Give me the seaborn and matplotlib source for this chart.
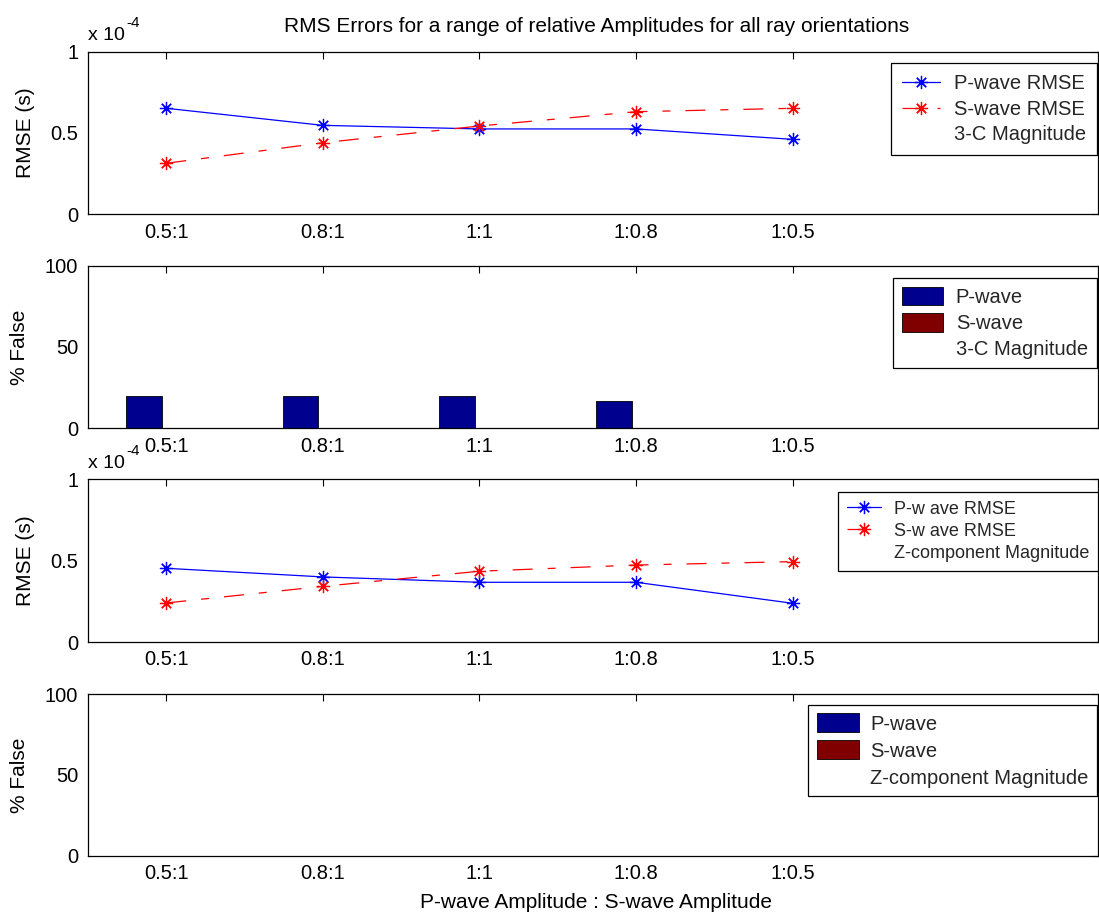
import numpy as np
import pandas as pd
import seaborn as sns
import matplotlib
matplotlib.use("Agg")
import matplotlib.pyplot as plt
from matplotlib.lines import Line2D
from matplotlib.patches import Patch

# ---------------- data ----------------
ratios = ["0.5:1", "0.8:1", "1:1", "1:0.8", "1:0.5"]
# RMSE values in units of 1e-4 s
p_rmse_3c = [0.652, 0.547, 0.525, 0.525, 0.461]
s_rmse_3c = [0.314, 0.440, 0.543, 0.631, 0.652]
p_rmse_z = [0.453, 0.400, 0.367, 0.367, 0.238]
s_rmse_z = [0.240, 0.342, 0.435, 0.473, 0.494]
# % false picks
p_false_3c = [20, 20, 20, 16.7, 0]
s_false_3c = [0, 0, 0, 0, 0]
p_false_z = [0, 0, 0, 0, 0]
s_false_z = [0, 0, 0, 0, 0]

title = "RMS Errors for a range of relative Amplitudes for all ray orientations"
xlabel = "P-wave Amplitude : S-wave Amplitude"

P_LINE = "#0000FF"
S_LINE = "#FF0000"
P_BAR = "#00008F"
S_BAR = "#800000"

sns.set_theme(style="white")
plt.rcParams["font.family"] = ["Liberation Sans", "DejaVu Sans"]

FS_TICK = 14.5
FS_LAB = 15
FS_LEG = 14.5
FS_TITLE = 15
W, H = 1099, 914
fig = plt.figure(figsize=(W / 100, H / 100), dpi=100)
fig.patch.set_facecolor("white")

left = 88 / W
width = (1098 - 88) / W

def rect(top_px, bot_px):
    return [left, 1 - bot_px / H, width, (bot_px - top_px) / H]

ax1 = fig.add_axes(rect(51.7, 214.3))
ax2 = fig.add_axes(rect(265.7, 428.3))
ax3 = fig.add_axes(rect(479.3, 642.0))
ax4 = fig.add_axes(rect(694.0, 855.7))

pos = np.arange(len(ratios))
asterisk = (8, 2, 0)
MS = 9.5
DASH = (0, (16, 12, 6.4, 12))

def style_axis(ax, yticks, yticklabels, ylabel, ylab_x):
    ax.set_xlim(-0.5, 5.95)
    ax.set_xticks(pos)
    ax.set_xticklabels(ratios)
    ax.set_yticks(yticks)
    ax.set_yticklabels(yticklabels)
    ax.tick_params(direction="in", length=5, width=0.8, top=True, right=True,
                   labelsize=FS_TICK, colors="black", pad=7)
    ax.tick_params(axis="x", pad=6)
    for s in ax.spines.values():
        s.set_color("black")
        s.set_linewidth(0.9)
        s.set_visible(True)
    ax.set_ylabel(ylabel, fontsize=FS_LAB, color="black")
    ax.yaxis.set_label_coords(ylab_x, 0.5)
    ax.set_xlabel("")

def frame(leg):
    f = leg.get_frame()
    f.set_edgecolor("black")
    f.set_linewidth(0.9)
    f.set_alpha(1)

def exponent_label(ax):
    ax.text(0.0, 1.072, "x 10", transform=ax.transAxes,
            fontsize=14, ha="left", va="baseline", color="black")
    ax.annotate("-4", xy=(0.0, 1.072), xycoords="axes fraction",
                xytext=(27.5, 9), textcoords="offset points",
                fontsize=11, ha="left", va="baseline", color="black")

def rmse_panel(ax, p_vals, s_vals, labels, leg_fs, leg_anchor, leg_kw):
    sns.lineplot(x=pos, y=p_vals, ax=ax, color=P_LINE, marker=asterisk,
                 markersize=MS, markeredgecolor=P_LINE, markeredgewidth=0.9,
                 linewidth=0.9, estimator=None, sort=False)
    sns.lineplot(x=pos, y=s_vals, ax=ax, color=S_LINE, marker=asterisk,
                 markersize=MS, markeredgecolor=S_LINE, markeredgewidth=0.9,
                 linewidth=0.9, linestyle=DASH, estimator=None, sort=False)
    ax.set_ylim(0, 1)
    style_axis(ax, [0, 0.5, 1], ["0", "0.5", "1"], "RMSE (s)", -0.052)
    exponent_label(ax)
    handles = [
        Line2D([], [], color=P_LINE, marker=asterisk, markersize=MS,
               markeredgecolor=P_LINE, markeredgewidth=0.9, linewidth=0.9),
        Line2D([], [], color=S_LINE, marker=asterisk, markersize=MS,
               markeredgecolor=S_LINE, markeredgewidth=0.9, linewidth=0.9,
               linestyle=DASH),
        Line2D([], [], color="none"),
    ]
    leg = ax.legend(handles, labels, loc="upper right", bbox_to_anchor=leg_anchor,
                    bbox_transform=fig.transFigure, borderaxespad=0,
                    fontsize=leg_fs, frameon=True, fancybox=False, **leg_kw)
    frame(leg)

def false_panel(ax, p_vals, s_vals, labels, leg_anchor, leg_kw):
    df = pd.DataFrame({
        "ratio": ratios * 2,
        "series": ["P-wave"] * len(ratios) + ["S-wave"] * len(ratios),
        "value": list(p_vals) + list(s_vals),
    })
    sns.barplot(data=df, x="ratio", y="value", hue="series", order=ratios,
                hue_order=["P-wave", "S-wave"], palette=[P_BAR, S_BAR],
                saturation=1, width=0.571, gap=0.2, edgecolor="black",
                linewidth=0.6, errorbar=None, ax=ax, legend=False)
    ax.set_ylim(0, 100)
    style_axis(ax, [0, 50, 100], ["0", "50", "100"], "% False", -0.058)
    handles = [
        Patch(facecolor=P_BAR, edgecolor="black", linewidth=0.6),
        Patch(facecolor=S_BAR, edgecolor="black", linewidth=0.6),
        Patch(facecolor="none", edgecolor="none"),
    ]
    leg = ax.legend(handles, labels, loc="upper right", bbox_to_anchor=leg_anchor,
                    bbox_transform=fig.transFigure, borderaxespad=0,
                    fontsize=FS_LEG, frameon=True, fancybox=False, **leg_kw)
    frame(leg)

rmse_panel(ax1, p_rmse_3c, s_rmse_3c,
           ["P-wave RMSE", "S-wave RMSE", "3-C Magnitude"], FS_LEG,
           (1097 / W, 1 - 63.3 / H),
           dict(handlelength=1.89, handletextpad=0.7, labelspacing=0.32, borderpad=0.55))
false_panel(ax2, p_false_3c, s_false_3c, ["P-wave", "S-wave", "3-C Magnitude"],
            (1097 / W, 1 - 277.7 / H),
            dict(handlelength=2.0, handleheight=1.04, handletextpad=0.65,
                 labelspacing=0.3, borderpad=0.45))
rmse_panel(ax3, p_rmse_z, s_rmse_z,
           ["P-w ave RMSE", "S-w ave RMSE", "Z-component Magnitude"], 13,
           (1098 / W, 1 - 491.7 / H),
           dict(handlelength=1.88, handletextpad=0.7, labelspacing=0.28, borderpad=0.5))
false_panel(ax4, p_false_z, s_false_z, ["P-wave", "S-wave", "Z-component Magnitude"],
            (1097 / W, 1 - 705 / H),
            dict(handlelength=2.1, handleheight=1.07, handletextpad=0.55,
                 labelspacing=0.33, borderpad=0.42))

fig.text(597 / W, 1 - 26.7 / H, title, ha="center", va="center",
         fontsize=FS_TITLE, color="black")
fig.text(596 / W, 1 - 903 / H, xlabel, ha="center", va="center",
         fontsize=FS_LAB, color="black")

fig.savefig("out.png", dpi=100, facecolor="white")
